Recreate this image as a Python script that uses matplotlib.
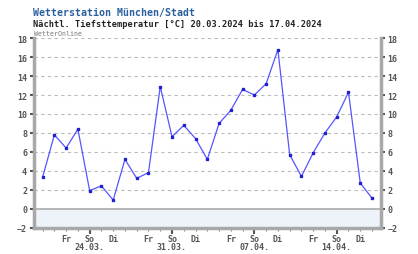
import numpy as np
import matplotlib.pyplot as plt
from matplotlib.ticker import FixedLocator, MultipleLocator

# Tiefsttemperatur je Nacht, 20.03.2024 .. 17.04.2024
temps = [3.3, 7.8, 6.4, 8.4, 1.9, 2.4, 0.9, 5.2, 3.2, 3.8,
         12.9, 7.6, 8.8, 7.4, 5.2, 9.0, 10.4, 12.6, 12.0, 13.2,
         16.8, 5.7, 3.4, 5.9, 8.0, 9.7, 12.3, 2.7, 1.1]
day_pos = [2, 4, 6, 9, 11, 13, 16, 18, 20, 23, 25, 27]
day_names = ['Fr', 'So', 'Di'] * 4
sunday_pos = [4, 11, 18, 25]
sunday_dates = ['24.03.', '31.03.', '07.04.', '14.04.']
yticks = list(range(-2, 19, 2))

mono = 'DejaVu Sans Mono'
grey = '#555555'

fig = plt.figure(figsize=(4.18, 2.55), dpi=100)
ax = fig.add_axes([34 / 418, 1 - 228.5 / 255, (380.5 - 34) / 418, (228.5 - 39.3) / 255])

x = np.arange(len(temps))
ax.axhspan(-2, 0, color='#eef3fa', zorder=0)
ax.axhline(0, color='#aaaaaa', lw=1.2, zorder=1)
for yv in yticks[2:]:
    ax.axhline(yv, color='#bbbbbb', lw=0.8, ls=(0, (3, 3)), zorder=1)

ax.plot(x, temps, color='#5555ff', lw=0.9, zorder=3)
ax.plot(x, temps, ls='none', marker='s', ms=1.6, color='#2020cc', zorder=4)

ax.set_xlim(-0.73, 28.72)
ax.set_ylim(-2, 18)

for side in ['left', 'right', 'bottom']:
    ax.spines[side].set_color('#a8a8a8')
    ax.spines[side].set_linewidth(2.5)
ax.spines['top'].set_visible(False)

ax.yaxis.set_major_locator(FixedLocator(yticks))
ax.tick_params(axis='y', which='both', left=True, right=True, labelleft=True, labelright=True,
               direction='out', length=3, width=1.5, color='#555555', labelsize=6, labelcolor=grey, pad=2)
for lab in ax.get_yticklabels():
    lab.set_fontfamily(mono)
    lab.set_fontweight('bold')

ax.xaxis.set_major_locator(FixedLocator(sunday_pos))
ax.xaxis.set_minor_locator(MultipleLocator(1))
ax.set_xticklabels([])
ax.tick_params(axis='x', which='major', direction='out', length=4, width=1.5, color='#555555')
ax.tick_params(axis='x', which='minor', direction='out', length=2, width=0.8, color='#888888')

for p, n in zip(day_pos, day_names):
    ax.text(p, -2.72, n, ha='center', va='top', fontsize=6, family=mono, fontweight='bold',
            color=grey)
for p, d in zip(sunday_pos, sunday_dates):
    ax.text(p, -3.55, d, ha='center', va='top', fontsize=6, family=mono, fontweight='bold',
            color=grey)

fig.text(33 / 418, 1 - 13 / 255, 'Wetterstation München/Stadt', fontsize=7.1, family=mono,
         fontweight='bold', color='#2a5f9e', va='center')
fig.text(33 / 418, 1 - 24.5 / 255, 'Nächtl. Tiefsttemperatur [°C] 20.03.2024 bis 17.04.2024',
         fontsize=6.2, family=mono, fontweight='bold', color='#222222', va='center')
fig.text(34 / 418, 1 - 34 / 255, 'WetterOnline', fontsize=4.8, family=mono, color='#777777',
         va='center')

fig.savefig('out.png', dpi=100)
